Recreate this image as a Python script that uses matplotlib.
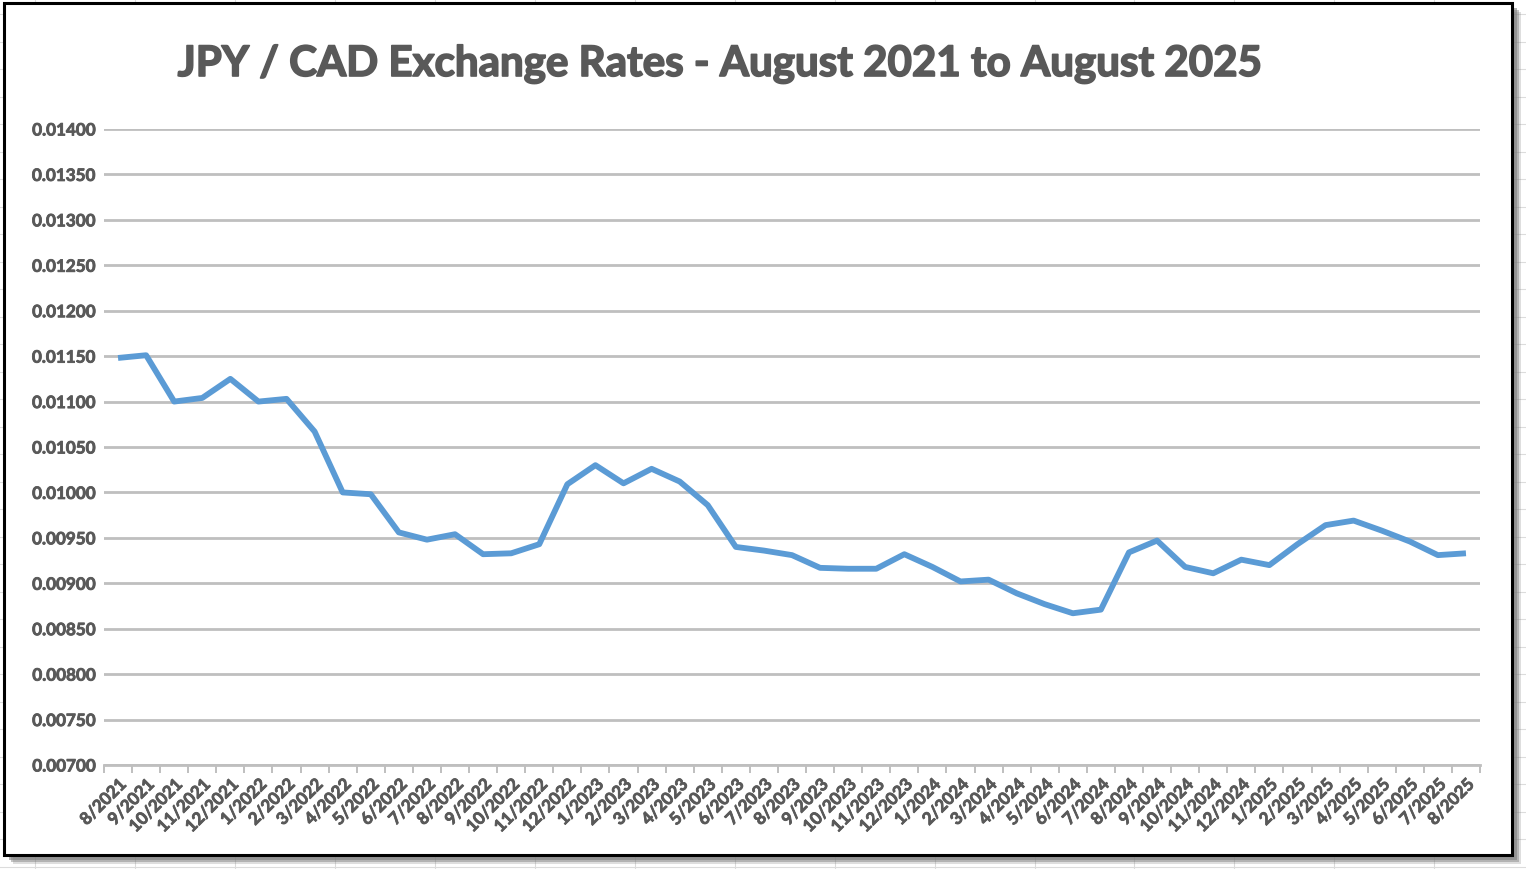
import matplotlib
matplotlib.use('Agg')
import matplotlib.pyplot as plt
import matplotlib.patheffects as pe
from matplotlib.lines import Line2D
from matplotlib.patches import Rectangle

months = ['8/2021', '9/2021', '10/2021', '11/2021', '12/2021',
          '1/2022', '2/2022', '3/2022', '4/2022', '5/2022', '6/2022', '7/2022',
          '8/2022', '9/2022', '10/2022', '11/2022', '12/2022',
          '1/2023', '2/2023', '3/2023', '4/2023', '5/2023', '6/2023', '7/2023',
          '8/2023', '9/2023', '10/2023', '11/2023', '12/2023',
          '1/2024', '2/2024', '3/2024', '4/2024', '5/2024', '6/2024', '7/2024',
          '8/2024', '9/2024', '10/2024', '11/2024', '12/2024',
          '1/2025', '2/2025', '3/2025', '4/2025', '5/2025', '6/2025', '7/2025',
          '8/2025']
rates = [0.01148, 0.01151, 0.01100, 0.01104, 0.01125,
         0.01100, 0.01103, 0.01067, 0.01000, 0.00998, 0.00956, 0.00948,
         0.00954, 0.00932, 0.00933, 0.00943, 0.01009,
         0.01030, 0.01010, 0.01026, 0.01012, 0.00986, 0.00940, 0.00936,
         0.00931, 0.00917, 0.00916, 0.00916, 0.00932,
         0.00918, 0.00902, 0.00904, 0.00889, 0.00877, 0.00867, 0.00871,
         0.00934, 0.00947, 0.00918, 0.00911, 0.00926,
         0.00920, 0.00943, 0.00964, 0.00969, 0.00958, 0.00946, 0.00931,
         0.00933]
y_ticks = [0.00700, 0.00750, 0.00800, 0.00850, 0.00900, 0.00950, 0.01000,
           0.01050, 0.01100, 0.01150, 0.01200, 0.01250, 0.01300, 0.01350, 0.01400]

W, H = 1526, 870
fonts = ['Lato', 'DejaVu Sans']
txt_col = '#595959'

fig = plt.figure(figsize=(W / 100, H / 100), dpi=100)
fig.patch.set_facecolor('white')

# faint spreadsheet cells behind the chart object
for k in range(16):
    x = (35 + 99.95 * k) / W
    fig.add_artist(Line2D([x, x], [0, 1], transform=fig.transFigure,
                          color='#dcdcdc', lw=0.8, zorder=0))
for k in range(32):
    y = 1 - (15 + 27.5 * k) / H
    fig.add_artist(Line2D([0, 1], [y, y], transform=fig.transFigure,
                          color='#dcdcdc', lw=0.8, zorder=0))

# drop shadow + frame
for off, a in [(9, 0.25), (7, 0.45), (5, 0.6)]:
    fig.add_artist(Rectangle(((4 + off) / W, 1 - (856 + off) / H), 1508 / W, 852 / H,
                             transform=fig.transFigure, facecolor='#7f7f7f',
                             edgecolor='none', alpha=a, zorder=1))
fig.add_artist(Rectangle((4 / W, 1 - 856 / H), 1508 / W, 852 / H,
                         transform=fig.transFigure, facecolor='white',
                         edgecolor='black', lw=2.2, zorder=2))

ax = fig.add_axes([104 / W, 1 - 766 / H, 1376 / W, 636 / H], zorder=3)
ax.patch.set_alpha(0)
x = list(range(len(rates)))
ax.plot(x, rates, color='#5B9BD5', lw=4.2, solid_joinstyle='round',
        solid_capstyle='butt', zorder=3)

ax.set_xlim(-0.5, len(rates) - 0.5)
ax.set_ylim(0.007, 0.014)
ax.set_yticks(y_ticks)
ax.set_yticklabels(['%.5f' % v for v in y_ticks])
ax.yaxis.grid(True, color='#BFBFBF', lw=2.0)
ax.set_axisbelow(True)
ax.tick_params(axis='y', length=0, pad=6, labelsize=12.3, labelcolor=txt_col)

ax.set_xticks([i - 0.5 for i in range(len(rates) + 1)])
ax.set_xticklabels([])
ax.set_xticks(x, minor=True)
ax.set_xticklabels(months, minor=True, rotation=45, ha='right',
                   rotation_mode='anchor')
ax.tick_params(axis='x', which='major', length=6, width=1.4, color='#BFBFBF')
ax.tick_params(axis='x', which='minor', length=0, pad=8, labelsize=12.3,
               labelcolor=txt_col)

thick = [pe.withStroke(linewidth=0.6, foreground=txt_col)]
for lab in ax.get_yticklabels() + ax.get_xticklabels(minor=True):
    lab.set_family(fonts)
    lab.set_fontweight('bold')
    lab.set_path_effects(thick)

for s in ['top', 'right', 'left']:
    ax.spines[s].set_visible(False)
ax.spines['bottom'].set_color('#BFBFBF')
ax.spines['bottom'].set_linewidth(2.0)

fig.text(721 / W, 1 - 77 / H, 'JPY / CAD Exchange Rates - August 2021 to August 2025',
         ha='center', va='baseline', fontsize=30.3, fontweight='bold',
         color=txt_col, family=fonts, zorder=4,
         path_effects=[pe.withStroke(linewidth=1.2, foreground=txt_col)])

fig.savefig('out.png', dpi=100)
